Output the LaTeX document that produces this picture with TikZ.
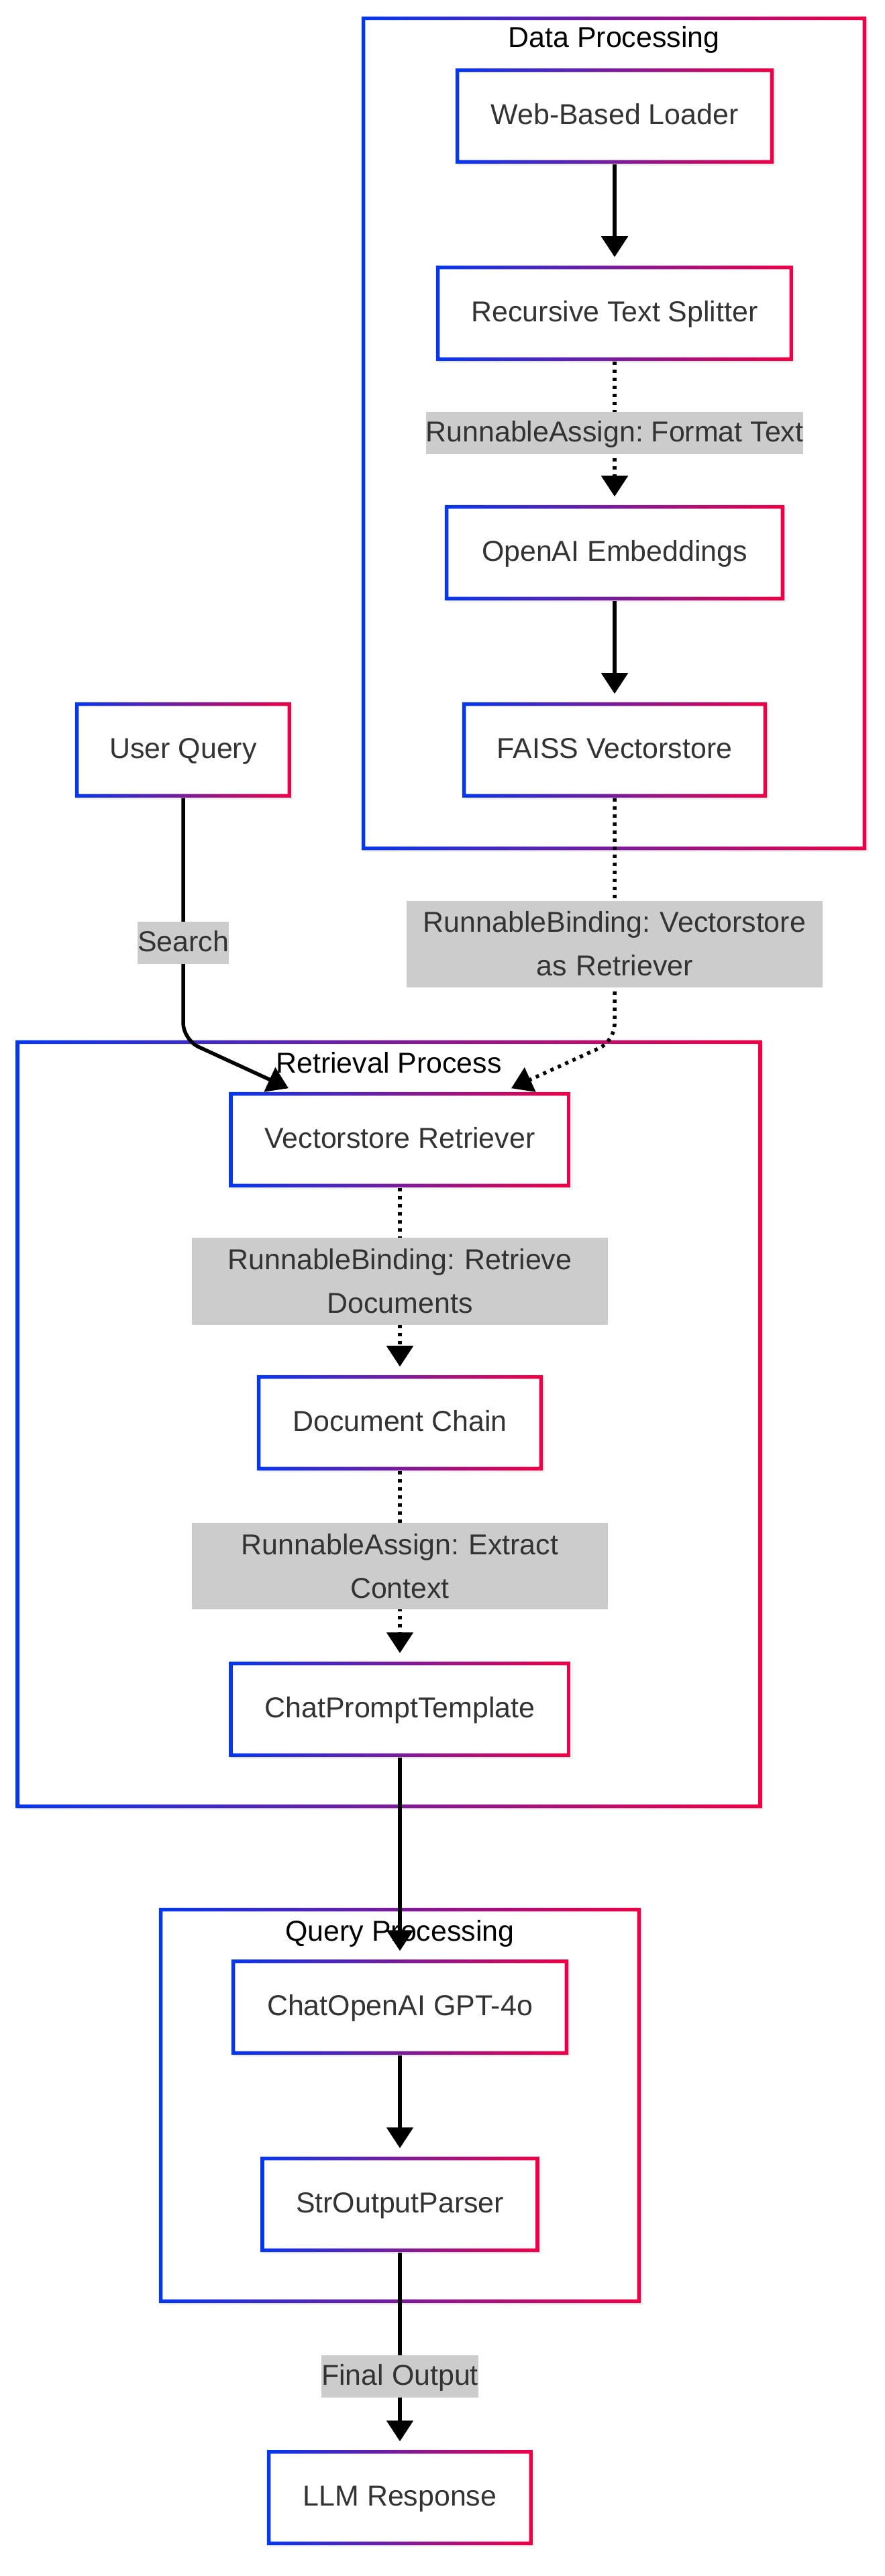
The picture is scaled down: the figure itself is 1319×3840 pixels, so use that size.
\documentclass[tikz,border=0pt]{standalone}
\usepackage{fontspec}
\setmainfont{Liberation Sans}
\usetikzlibrary{arrows.meta,shadows}

\definecolor{gradblue}{RGB}{5,55,240}
\definecolor{gradred}{RGB}{240,0,70}
\definecolor{labelgray}{RGB}{204,204,204}
\definecolor{textgray}{RGB}{51,51,51}

\newcommand{\mmdfont}{\fontsize{12.2pt}{18.5pt}\selectfont\frenchspacing}

\begin{document}
\begin{tikzpicture}[x=0.01cm, y=-0.01cm,
        grpbox/.style={fill=white, inner sep=0pt,
            drop shadow={opacity=0.1, shadow xshift=0.03cm, shadow yshift=-0.03cm},
            path picture={\shade[left color=gradblue, right color=gradred, even odd rule]
                (path picture bounding box.south west) rectangle (path picture bounding box.north east)
                ([shift={(0.055cm,0.055cm)}]path picture bounding box.south west)
                rectangle ([shift={(-0.055cm,-0.055cm)}]path picture bounding box.north east);}},
        procbox/.style={grpbox, minimum height=1.42cm, text=textgray, font=\mmdfont,
            text height=0.72em, text depth=0pt},
        grptitle/.style={font=\mmdfont, text=black, anchor=base, inner sep=0pt},
        edgelbl/.style={sharp corners, fill=labelgray, inner sep=0pt, text=textgray, font=\mmdfont,
            minimum height=0.63cm, text height=0.72em, text depth=0pt},
        wraplbl/.style={sharp corners, fill=labelgray, inner sep=0pt, text=textgray, font=\mmdfont,
            align=center, text width=6.2cm, minimum height=1.29cm},
        flow/.style={line width=0.055cm, -{Triangle[length=0.31cm, width=0.39cm]}, shorten >=0.12cm},
        dotflow/.style={flow, dash pattern=on 0.05cm off 0.07cm}]

            \path[use as bounding box, fill=white] (0,0) rectangle (1319,3840);

            \node[grpbox, minimum width=7.52cm, minimum height=12.42cm] (dp) at (915,646) {};
            \node[grpbox, minimum width=11.11cm, minimum height=11.44cm] (rp) at (579.5,2123) {};
            \node[grpbox, minimum width=7.18cm, minimum height=5.89cm] (qp) at (596,3138.5) {};

            \node[grptitle] (dptitle) at ([yshift=-0.47cm]dp.north) {Data Processing};
            \node[grptitle] (rptitle) at ([yshift=-0.49cm]rp.north) {Retrieval Process};
            \node[grptitle] (qptitle) at ([yshift=-0.50cm]qp.north) {Query Processing};

            \node[procbox, minimum width=4.74cm] (wbl) at (916,173) {Web-Based Loader};
            \node[procbox, minimum width=5.32cm] (rts) at (916,467) {Recursive Text Splitter};
            \node[procbox, minimum width=5.06cm] (oae) at (916,824) {OpenAI Embeddings};
            \node[procbox, minimum width=4.54cm] (faiss) at (916,1118) {FAISS Vectorstore};
            \node[procbox, minimum width=3.22cm] (uq) at (273,1118) {User Query};

            \node[procbox, minimum width=5.09cm] (vr) at (596,1699) {Vectorstore Retriever};
            \node[procbox, minimum width=4.26cm] (dc) at (596,2121) {Document Chain};
            \node[procbox, minimum width=5.09cm] (cpt) at (596,2548) {ChatPromptTemplate};

            \node[procbox, minimum width=5.02cm] (gpt) at (596,2992) {ChatOpenAI GPT-4o};
            \node[procbox, minimum width=4.15cm] (sop) at (596,3286) {StrOutputParser};
            \node[procbox, minimum width=3.96cm] (llm) at (596,3723) {LLM Response};

            \coordinate (uqbend) at (uq.south |- 0,1550);
            \coordinate (faissbend) at (faiss.south |- 0,1552);

            \draw[flow] (wbl) -- (rts);

            \draw[dotflow] (rts) -- node[edgelbl] (ftlbl) {RunnableAssign: Format Text} (oae);

            \draw[flow] (oae) -- (faiss);

            \draw[flow, rounded corners=0.25cm]
            (uq) -- node[edgelbl, pos=0.6] (searchlbl) {Search}
            (uqbend) -- ([xshift=-1.55cm]vr.north);

            \draw[dotflow, rounded corners=0.25cm]
            (faiss) -- node[wraplbl, pos=0.6] (rblbl) {RunnableBinding: Vectorstore\\as Retriever}
            (faissbend) -- ([xshift=1.55cm]vr.north);

            \draw[dotflow] (vr) -- node[wraplbl] (rbdlbl) {RunnableBinding: Retrieve\\Documents} (dc);

            \draw[dotflow] (dc) -- node[wraplbl] (reclbl) {RunnableAssign: Extract\\Context} (cpt);

            \draw[flow] (cpt) -- (gpt);

            \draw[flow] (gpt) -- (sop);

            \draw[flow] (sop) -- node[edgelbl, pos=0.63] (folbl) {Final Output} (llm);

        \end{tikzpicture}
\end{document}
